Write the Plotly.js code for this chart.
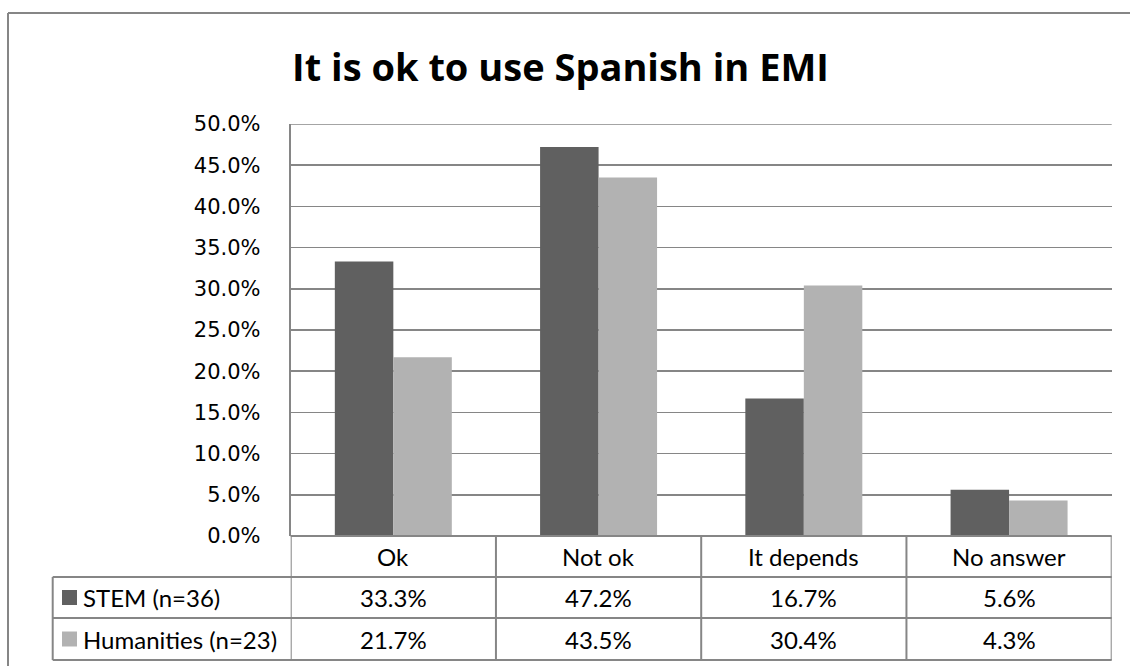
<!DOCTYPE html>
<html>
<head>
<meta charset="utf-8">
<script src="https://cdn.plot.ly/plotly-3.0.1.min.js"></script>
<style>html,body{margin:0;padding:0;background:#fff;}#chart{width:1130px;height:666px;}</style>
</head>
<body>
<div id="chart"></div>
<script>
const categories = ["Ok", "Not ok", "It depends", "No answer"];
const seriesNames = ["STEM (n=36)", "Humanities (n=23)"];
const stemValues = [0.333, 0.472, 0.167, 0.056];
const humanitiesValues = [0.217, 0.435, 0.304, 0.043];
const seriesColors = ["#606060", "#b2b2b2"];
const titleText = "It is ok to use Spanish in EMI";
const yMax = 0.5;

const W = 1130, H = 666;
const px = v => v / W;
const py = v => 1 - v / H;

const plotL = 290.7, plotR = 1111.7, plotTop = 124, plotBot = 536;
const rowY = [536, 577, 618, 660];
const legendLeft = 52.7;
const gridCol = "#868686";
const tableFont = {family: "Lato, 'Open Sans', sans-serif", size: 24, color: "#000"};

const allSeries = [stemValues, humanitiesValues];

const traces = allSeries.map((vals, i) => ({
  type: "bar",
  x: categories,
  y: vals,
  name: seriesNames[i],
  marker: {color: seriesColors[i], line: {width: 0}},
  hoverinfo: "skip"
}));

const shapes = [];
const annotations = [];
// outer chart border
shapes.push({type: "line", xref: "paper", yref: "paper", x0: px(8), x1: px(1135), y0: py(13), y1: py(13), line: {color: gridCol, width: 2}});
shapes.push({type: "line", xref: "paper", yref: "paper", x0: px(8), x1: px(8), y0: py(13), y1: py(670), line: {color: gridCol, width: 2}});
// top gridline at axis max
shapes.push({type: "line", xref: "x domain", yref: "y", x0: 0, x1: 1, y0: yMax, y1: yMax, line: {color: gridCol, width: 1.5}, layer: "below"});

// table horizontal lines
shapes.push({type: "line", xref: "paper", yref: "paper", x0: px(plotL), x1: px(plotR), y0: py(rowY[0]), y1: py(rowY[0]), line: {color: gridCol, width: 2}});
for (let r = 1; r < rowY.length; r++) {
  shapes.push({type: "line", xref: "paper", yref: "paper", x0: px(legendLeft), x1: px(plotR), y0: py(rowY[r]), y1: py(rowY[r]), line: {color: gridCol, width: 2}});
}
// legend column left edge
shapes.push({type: "line", xref: "paper", yref: "paper", x0: px(legendLeft), x1: px(legendLeft), y0: py(rowY[1]), y1: py(rowY[3]), line: {color: gridCol, width: 2}});
// category column separators
for (let c = 0; c <= categories.length; c++) {
  shapes.push({type: "line", xref: "x", yref: "paper", x0: c - 0.5, x1: c - 0.5, y0: py(rowY[0]), y1: py(rowY[3]), line: {color: gridCol, width: 2}});
}

// header row: categories
categories.forEach((cat, c) => {
  annotations.push({xref: "x", yref: "paper", x: c, y: py((rowY[0] + rowY[1]) / 2), text: cat, showarrow: false, xanchor: "center", yanchor: "middle", font: tableFont});
});
// value rows
allSeries.forEach((vals, s) => {
  const yc = py((rowY[s + 1] + rowY[s + 2]) / 2);
  vals.forEach((v, c) => {
    annotations.push({xref: "x", yref: "paper", x: c, y: yc, text: (v * 100).toFixed(1) + "%", showarrow: false, xanchor: "center", yanchor: "middle", font: tableFont});
  });
  // legend key
  shapes.push({type: "rect", xref: "paper", yref: "paper", x0: px(62), x1: px(77), y0: py((rowY[s + 1] + rowY[s + 2]) / 2 + 7.5), y1: py((rowY[s + 1] + rowY[s + 2]) / 2 - 7.5), fillcolor: seriesColors[s], line: {width: 0}});
  annotations.push({xref: "paper", yref: "paper", x: px(81), y: yc, text: seriesNames[s], showarrow: false, xanchor: "left", yanchor: "middle", font: tableFont});
});

const layout = {
  width: W, height: H,
  margin: {l: 0, r: 0, t: 0, b: 0},
  paper_bgcolor: "#fff", plot_bgcolor: "#fff",
  showlegend: false,
  barmode: "group",
  bargap: 0.43,
  bargroupgap: 0,
  title: {text: "<b>" + titleText + "</b>", x: 0.496, xanchor: "center", y: py(68), yanchor: "middle", yref: "paper",
          font: {family: "'Open Sans', Lato, sans-serif", size: 38, color: "#000"}},
  xaxis: {domain: [px(plotL), px(plotR)], type: "category", showticklabels: false, ticks: "", showgrid: false, zeroline: false,
          showline: false, range: [-0.5, 3.5], fixedrange: true},
  yaxis: {domain: [py(plotBot), py(plotTop)], range: [0, yMax], dtick: 0.05, tick0: 0, tickformat: ".1%",
          showgrid: true, gridcolor: gridCol, gridwidth: 1.5, zeroline: false,
          showline: true, linecolor: gridCol, linewidth: 2, ticks: "", ticklabelstandoff: 24,
          tickfont: {family: "'DejaVu Sans', sans-serif", size: 21, color: "#000"}, fixedrange: true},
  shapes: shapes,
  annotations: annotations
};

Plotly.newPlot("chart", traces, layout, {displayModeBar: false, staticPlot: true});
</script>
</body>
</html>
